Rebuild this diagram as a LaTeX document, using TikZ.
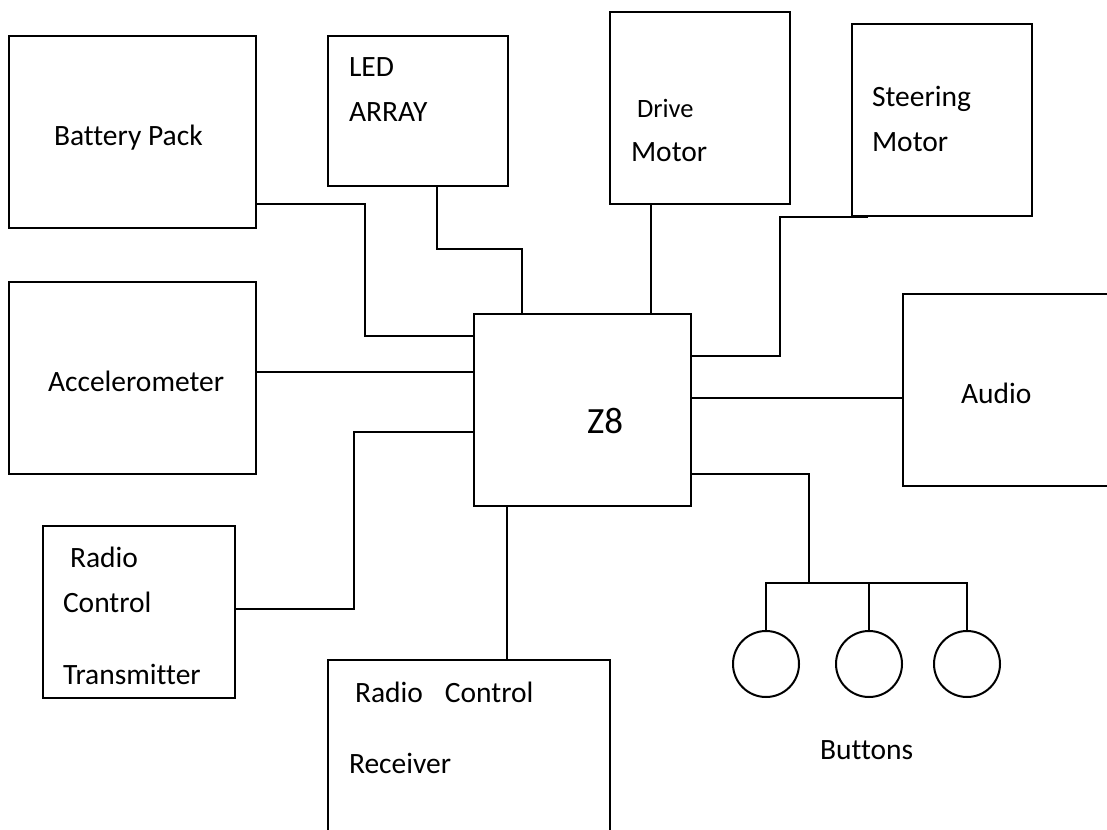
\documentclass[tikz,border=0pt]{standalone}
\usepackage{fontspec}
\setmainfont{Carlito}[Ligatures=NoCommon]
\usetikzlibrary{positioning}

\begin{document}
\begin{tikzpicture}[x=1pt,y=-1pt,line width=2pt,
blk/.style={draw,rectangle,inner sep=0pt},
btn/.style={draw,circle,inner sep=0pt,minimum size=66pt},
lbl/.style={anchor=base west,inner sep=0pt,font=\fontsize{29.5}{35}\selectfont}]
\clip (0,0) rectangle (1107,829);
% blocks
\node[blk,minimum width=247pt,minimum height=192pt] (bat) at (132.5,132) {};
\node[blk,minimum width=180pt,minimum height=150pt] (led) at (418,111) {};
\node[blk,minimum width=180pt,minimum height=192pt] (drv) at (700,108) {};
\node[blk,minimum width=180pt,minimum height=192pt] (str) at (942,120) {};
\node[blk,minimum width=247pt,minimum height=192pt] (acc) at (132.5,378) {};
\node[blk,minimum width=217pt,minimum height=192pt] (z8) at (582.5,410) {};
\node[blk,minimum width=217pt,minimum height=192pt] (aud) at (1011.5,390) {};
\node[blk,minimum width=192pt,minimum height=172pt] (tx) at (139,612) {};
\node[blk,minimum width=282pt,minimum height=190pt] (rx) at (469,755) {};
\node[btn] (b1) at (766,664) {};
\node[btn] (b2) at (869,664) {};
\node[btn] (b3) at (967,664) {};
% labels
\node[lbl] (batT) at (53,146) {Battery Pack};
\node[lbl] (ledT) at (348,77) {LED};
\node[lbl] (ledT2) at (348,122) {ARRAY};
\node[lbl,font=\fontsize{26.5}{32}\selectfont] (drvT) at (636,118) {Drive};
\node[lbl] (drvT2) at (630,162) {Motor};
\node[lbl] (strT) at (871,107) {Steering};
\node[lbl] (strT2) at (871,152) {Motor};
\node[lbl] (accT) at (47,391) {Accelerometer};
\node[lbl,font=\fontsize{37}{44}\selectfont] (z8T) at (586,433) {Z8};
\node[lbl] (audT) at (960,403) {Audio};
\node[lbl] (txT) at (69,567) {Radio};
\node[lbl] (txT2) at (62,612) {Control};
\node[lbl] (txT3) at (62,684) {Transmitter};
\node[lbl] (rxT) at (354,702) {Radio\hspace{22pt}Control};
\node[lbl] (rxT2) at (348,773) {Receiver};
\node[lbl] (btnT) at (819,759) {Buttons};
% connections
\draw (bat.east |- 0,204) -| (365,336) -- (z8.west |- 0,336);
\draw (led.south -| 437,0) |- (522,249) -- (z8.north -| 522,0);
\draw (drv.south -| 651,0) -- (z8.north -| 651,0);
\draw (str.south -| 868,0) -| (780,356) -- (z8.east |- 0,356);
\draw (acc.east |- 0,372) -- (z8.west |- 0,372);
\draw (z8.east |- 0,398) -- (aud.west |- 0,398);
\draw (tx.east |- 0,609) -| (354,432) -- (z8.west |- 0,432);
\draw (z8.south -| 507,0) -- (rx.north -| 507,0);
\draw (z8.east |- 0,474) -| (809,583);
\draw (b1.north) |- (b3.north |- 0,583) -- (b3.north);
\draw (b2.north) -- (b2.north |- 0,583);
\end{tikzpicture}
\end{document}
